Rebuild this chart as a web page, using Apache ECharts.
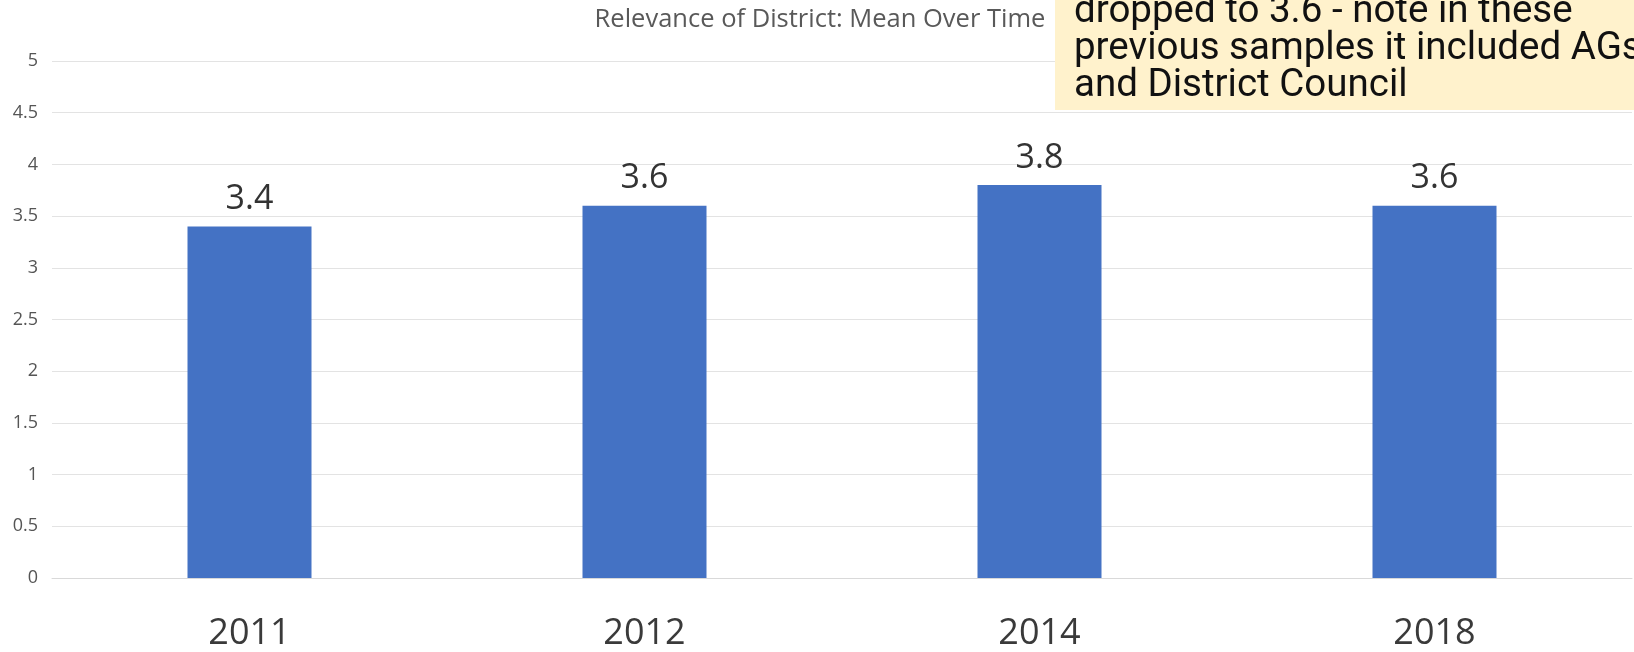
<!DOCTYPE html>
<html>
<head>
<meta charset="utf-8">
<script src="https://cdn.jsdelivr.net/npm/echarts@6/dist/echarts.min.js"></script>
<style>
html,body{margin:0;padding:0;background:#fff;}
#chart{width:1634px;height:652px;}
</style>
</head>
<body>
<div id="chart"></div>
<script>
const titleText = 'Relevance of District: Mean Over Time';
const categories = ['2011', '2012', '2014', '2018'];
const meanValues = [3.4, 3.6, 3.8, 3.6];
const noteLines = ['dropped to 3.6 - note in these', 'previous samples it included AGs', 'and District Council'];

const chart = echarts.init(document.getElementById('chart'), null, {renderer: 'canvas'});
const noteTexts = noteLines.map((t, i) => ({
  type: 'text',
  left: 1074,
  top: -7 + i * 37,
  z: 101,
  style: {text: t, fill: '#111', font: '38.5px Roboto', textVerticalAlign: 'top'}
}));
chart.setOption({
  animation: false,
  backgroundColor: '#fff',
  title: {
    text: titleText,
    left: 815,
    top: 2,
    textAlign: 'center',
    textStyle: {fontFamily: 'Open Sans', fontSize: 25.5, fontWeight: 'normal', color: '#595959'}
  },
  grid: {left: 52, right: 2, top: 61, bottom: 67},
  xAxis: {
    type: 'category',
    data: categories,
    axisTick: {show: false},
    axisLine: {show: true, lineStyle: {color: '#d9d9d9', width: 1}},
    axisLabel: {fontFamily: 'Open Sans', fontSize: 36, color: '#3a3a3a', margin: 38}
  },
  yAxis: {
    type: 'value',
    min: 0,
    max: 5,
    interval: 0.5,
    axisLine: {show: false},
    axisTick: {show: false},
    splitLine: {lineStyle: {color: '#e3e3e3', width: 1}},
    axisLabel: {fontFamily: 'Open Sans', fontSize: 18, color: '#555555', margin: 14}
  },
  series: [{
    type: 'bar',
    data: meanValues,
    barWidth: 124,
    itemStyle: {color: '#4472c4'},
    label: {
      show: true,
      position: 'top',
      distance: 10,
      fontFamily: 'Open Sans',
      fontSize: 34,
      color: '#333333'
    }
  }],
  graphic: [{
    type: 'rect',
    shape: {x: 1055, y: 0, width: 600, height: 110},
    style: {fill: '#fff2cc'},
    z: 100
  }].concat(noteTexts)
});
</script>
</body>
</html>
